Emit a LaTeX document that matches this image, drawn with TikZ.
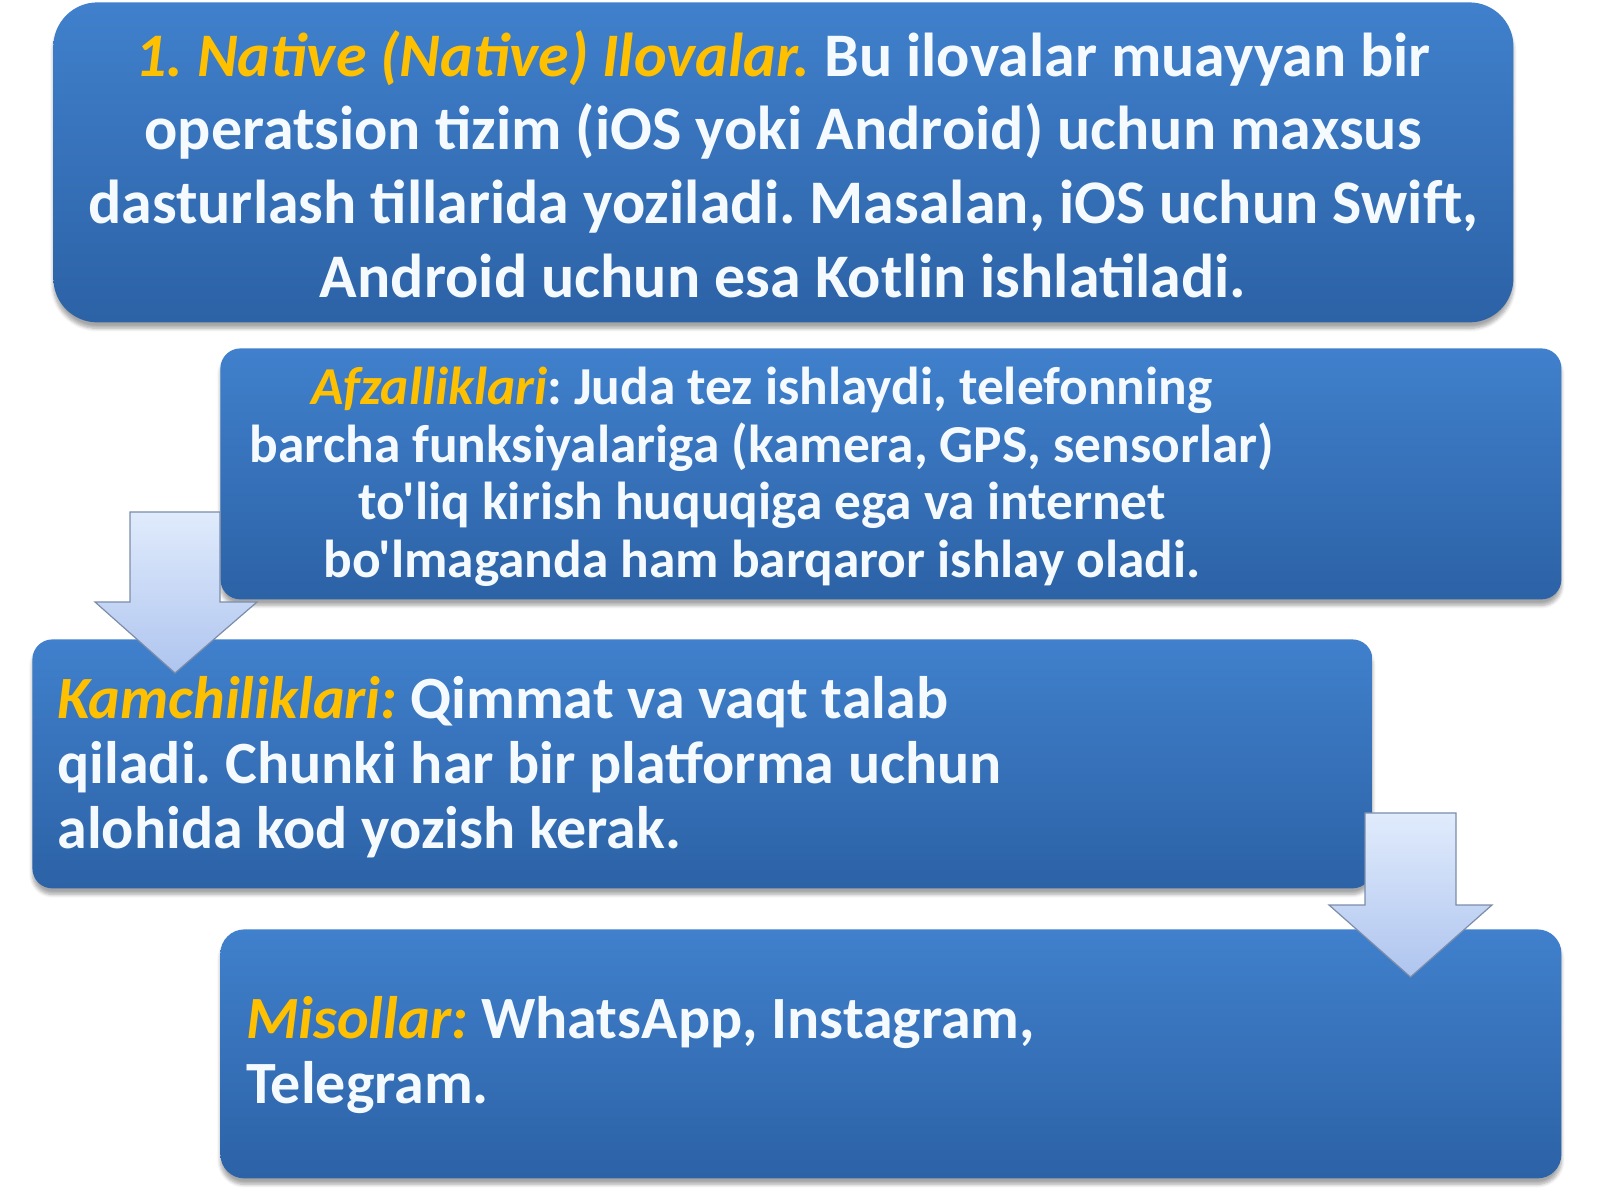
\documentclass[tikz,border=0pt]{standalone}
\usepackage{fontspec}
\newfontfamily\calib{Carlito}
\usetikzlibrary{shadows.blur}
\definecolor{boxtop}{HTML}{4080CC}
\definecolor{boxbot}{HTML}{2C62A6}
\definecolor{arrtop}{HTML}{E0EBFC}
\definecolor{arrbot}{HTML}{AFC5EF}
\definecolor{arredge}{HTML}{7C8DAA}
\definecolor{hl}{HTML}{FFC000}
\definecolor{txt}{HTML}{F5FAFF}
\tikzset{
 panel/.style={rectangle, top color=boxtop, bottom color=boxbot, draw=none,
   blur shadow={shadow xshift=0pt,shadow yshift=-3pt,shadow blur steps=6,shadow opacity=35},
   inner sep=0pt, anchor=north west},
 blockarrow/.style={top color=arrtop, bottom color=arrbot, draw=arredge, line width=0.6pt, line join=miter},
 txtnode/.style={text=txt, font=\calib\bfseries, inner sep=0pt},
}
\newcommand\hlit[1]{{\color{hl}\itshape #1}}
\frenchspacing
\begin{document}
\begin{tikzpicture}[x=0.5pt,y=0.5pt]
\useasboundingbox (0,0) rectangle (1600,1200);
% panels
\node[panel, minimum width=730pt, minimum height=160pt, rounded corners=22pt] (b1) at (53,1198) {};
\node[panel, minimum width=670.5pt, minimum height=125.5pt, rounded corners=10pt] (b2) at (220,852) {};
\node[panel, minimum width=670pt, minimum height=124.5pt, rounded corners=10pt] (b3) at (32,561) {};
\node[panel, minimum width=670.5pt, minimum height=124.5pt, rounded corners=12pt] (b4) at (220,271) {};
% texts
\node[txtnode, align=center, font=\calib\bfseries\frenchspacing\fontsize{31}{36.9}\selectfont] (t1) at (783,1036)
 {\hlit{1. Native (Native) Ilovalar.} Bu ilovalar muayyan bir\\
  operatsion tizim (iOS yoki Android) uchun maxsus\\
  dasturlash tillarida yoziladi. Masalan, iOS uchun Swift,\\
  Android uchun esa Kotlin ishlatiladi.};
\node[txtnode, align=center, font=\calib\bfseries\frenchspacing\fontsize{26.7}{28.75}\selectfont] (t2) at (762,723)
 {\hlit{Afzalliklari}: Juda tez ishlaydi, telefonning\\
  barcha funksiyalariga (kamera, GPS, sensorlar)\\
  to'liq kirish huquqiga ega va internet\\
  bo'lmaganda ham barqaror ishlay oladi.};
\node[txtnode, align=left, anchor=west, font=\calib\bfseries\frenchspacing\fontsize{30}{32.4}\selectfont] (t3) at (57,433)
 {\hlit{Kamchiliklari:} Qimmat va vaqt talab\\
  qiladi. Chunki har bir platforma uchun\\
  alohida kod yozish kerak.};
\node[txtnode, align=left, anchor=west, font=\calib\bfseries\frenchspacing\fontsize{30}{32.4}\selectfont] (t4) at (246,145)
 {\hlit{Misollar:} WhatsApp, Instagram,\\
  Telegram.};
% block arrows
\coordinate (a1s) at (130,688);
\coordinate (a1t) at (175,527);
\draw[blockarrow] (a1s) -- (220,688) -- (220,598) -- (257,598) -- (a1t) -- (95,598) -- (130,598) -- cycle;
\coordinate (a2s) at (1365,387);
\coordinate (a2t) at (1410.5,223);
\draw[blockarrow] (a2s) -- (1456,387) -- (1456,295) -- (1492,295) -- (a2t) -- (1329,295) -- (1365,295) -- cycle;
\end{tikzpicture}
\end{document}
